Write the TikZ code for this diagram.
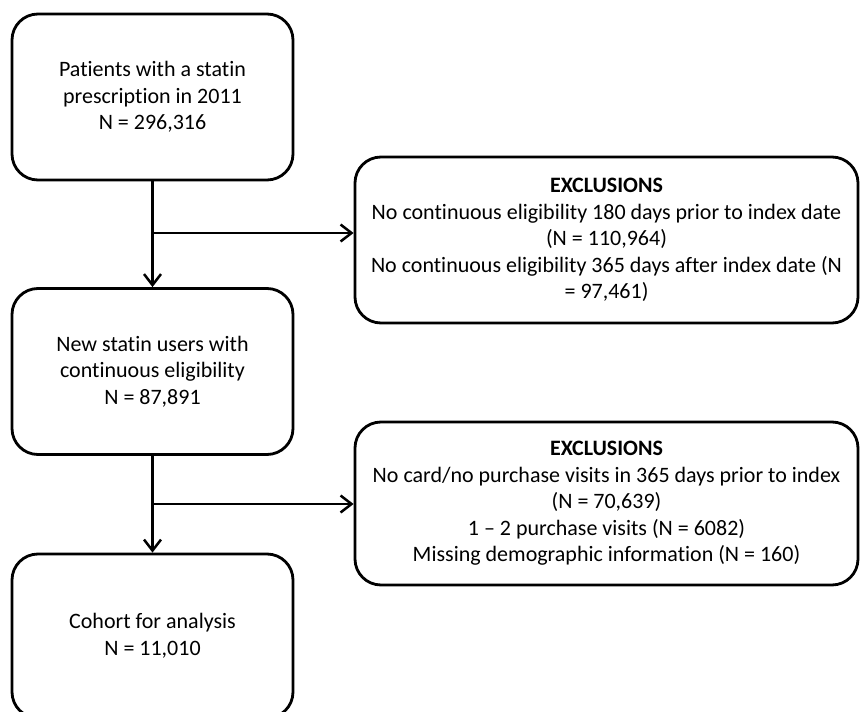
\documentclass[tikz,border=0pt]{standalone}
\usepackage{fontspec}
\setmainfont[Ligatures=NoCommon]{Carlito}
\usetikzlibrary{arrows.meta}
\begin{document}
\begin{tikzpicture}[x=1pt,y=-1pt,
  box/.style={draw=black,line width=2.8pt,rounded corners=26pt,align=center,
    font=\fontsize{22}{26.5}\selectfont,inner sep=0pt},
  conn/.style={line width=2.8pt,-{Straight Barb[length=11pt,width=17pt,line width=2.5pt]}}]
\useasboundingbox (0,0) rectangle (860,712);
\node[box,minimum width=281pt,minimum height=166pt] (b1) at (152.5,97)
  {Patients with a statin\\prescription in 2011\\N = 296,316};
\node[box,minimum width=281pt,minimum height=166pt] (b2) at (152.5,371.5)
  {New statin users with\\continuous eligibility\\N = 87,891};
\node[box,minimum width=281pt,minimum height=164pt] (b3) at (152.5,636)
  {Cohort for analysis\\N = 11,010};
\node[box,minimum width=503pt,minimum height=166pt] (e1) at (606.5,240)
  {\textbf{EXCLUSIONS}\\No continuous eligibility 180 days prior to index date\\(N = 110,964)\\No continuous eligibility 365 days after index date (N\\= 97,461)};
\node[box,minimum width=503pt,minimum height=163pt] (e2) at (606.5,503.5)
  {\textbf{EXCLUSIONS}\\No card/no purchase visits in 365 days prior to index\\(N = 70,639)\\1 -- 2 purchase visits (N = 6082)\\Missing demographic information (N = 160)};
\coordinate (j1) at (152.5,233);
\coordinate (j2) at (152.5,504);
\draw[conn] (b1.south) -- (b2.north);
\draw[conn] (j1) -- (j1 -| e1.west);
\draw[conn] (b2.south) -- (b3.north);
\draw[conn] (j2) -- (j2 -| e2.west);
\end{tikzpicture}
\end{document}
